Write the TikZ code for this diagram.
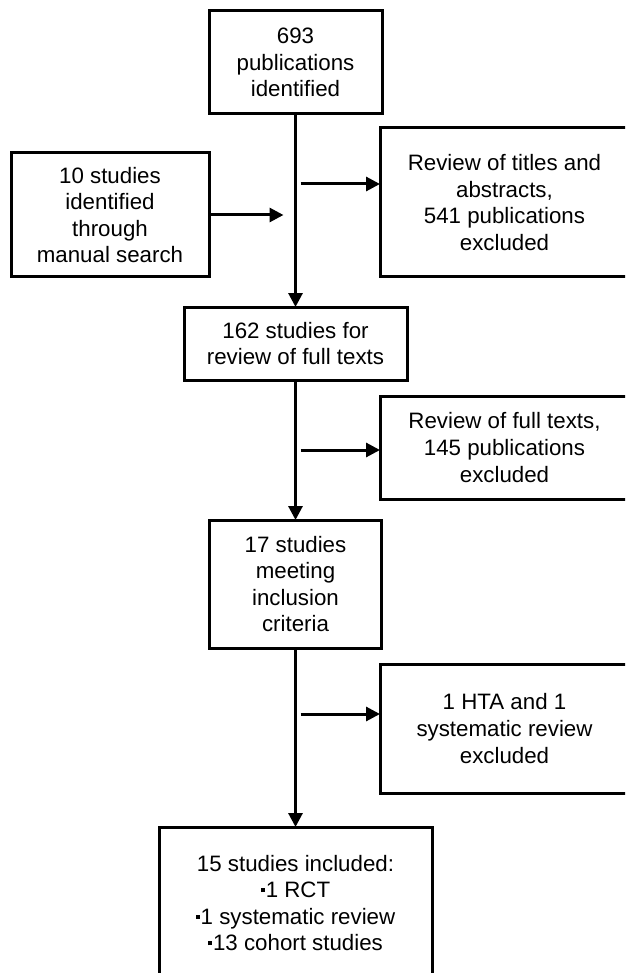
\documentclass[tikz,border=0pt]{standalone}
\usepackage{fontspec}
\setmainfont{Liberation Sans}
\usetikzlibrary{positioning,arrows.meta}
\newcommand{\sqbullet}{\raisebox{5.5pt}{\rule{4pt}{4pt}}\hspace{1pt}}
\begin{document}
\begin{tikzpicture}[x=1pt,y=-1pt,>={Triangle[length=14pt,width=14pt]},font=\fontsize{22.3}{26.6}\selectfont]

    % Define node styles
    \tikzstyle{main_block} = [draw, line width=3pt, outer sep=0pt, inner sep=0pt, align=center]
    \tikzstyle{side_block} = [draw, line width=3pt, outer sep=0pt, inner sep=0pt, align=center, anchor=north west, minimum width=249pt]
    \tikzstyle{flow} = [->, line width=3pt]

    \useasboundingbox (0,0) rectangle (625,973);
    \clip (0,0) rectangle (625,973);

    % Draw nodes
    \node [main_block, minimum width=173pt, minimum height=103pt] (publications) at (295.5,62.5) {693\\publications\\identified};
    \node [main_block, minimum width=198pt, minimum height=124pt, below=39pt of publications.south west, anchor=north east] (manual) {10 studies\\identified\\through\\manual search};
    \node [main_block, minimum width=223pt, minimum height=73pt, below=193pt of publications] (fulltexts) {162 studies for\\review of full texts};
    \node [main_block, minimum width=172pt, minimum height=128pt, below=140pt of fulltexts] (inclusion) {17 studies\\meeting\\inclusion\\criteria};
    \node [main_block, minimum width=273pt, minimum height=152pt, below=179pt of inclusion] (included) {15 studies included:\\\sqbullet1 RCT\\\sqbullet1 systematic review\\\sqbullet13 cohort studies};

    \node [side_block, minimum height=149pt] (titles_excluded) at (380,128) {Review of titles and\\abstracts,\\541 publications\\excluded};
    \node [side_block, minimum height=103pt] (texts_excluded) at (380,396) {Review of full texts,\\145 publications\\excluded};
    \node [side_block, minimum height=129pt] (reviews_excluded) at (380,664) {1 HTA and 1\\systematic review\\excluded};

    % Draw arrows
    \draw [flow] (publications) -- (fulltexts);
    \draw [flow] (fulltexts) -- (inclusion);
    \draw [flow] (inclusion) -- (included);

    \draw [flow] (manual.east) -- ([xshift=-12pt]manual.east -| publications.south);

    \draw [flow] (publications.south |- titles_excluded.west) ++(5pt,18.5pt) -- ([yshift=18.5pt]titles_excluded.west);
    \draw [flow] (publications.south |- texts_excluded.west) ++(5pt,-2.5pt) -- ([yshift=-2.5pt]texts_excluded.west);
    \draw [flow] (publications.south |- reviews_excluded.west) ++(5pt,14.5pt) -- ([yshift=14.5pt]reviews_excluded.west);

\end{tikzpicture}
\end{document}
